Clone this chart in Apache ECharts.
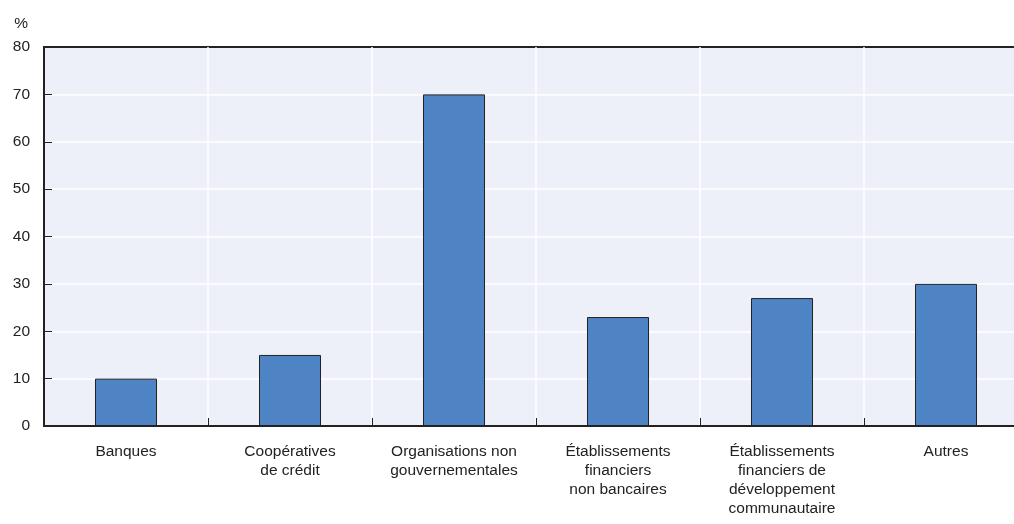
<!DOCTYPE html>
<html>
<head>
<meta charset="utf-8">
<script src="https://cdn.jsdelivr.net/npm/echarts@6/dist/echarts.min.js"></script>
<style>
  html, body { margin: 0; padding: 0; background: #fff; overflow: hidden; }
  /* le graphique dépasse à droite, comme dans l'original */
  #chart { width: 1028px; height: 524px; }
</style>
</head>
<body>
<div id="chart"></div>
<script>
// catégories d'établissements
const categories = [
    'Banques',
    'Coopératives\nde crédit',
    'Organisations non\ngouvernementales',
    'Établissements\nfinanciers\nnon bancaires',
    'Établissements\nfinanciers de\ndéveloppement\ncommunautaire',
    'Autres'
]
// part en %
const values = [10, 15, 70, 23, 27, 30]
const yTicks = [0, 10, 20, 30, 40, 50, 60, 70, 80]

const font = "'Liberation Sans', Arial, sans-serif"
const chart = echarts.init(document.getElementById('chart'))

const option = {
    animation: false,
    textStyle: { fontFamily: font },
    grid: {
        left: 44,
        right: 0,
        top: 47,
        bottom: 98,
        show: true,
        backgroundColor: '#eef0f9',
        borderColor: '#222',
        borderWidth: 2
    },
    xAxis: {
        type: 'category',
        data: categories,
        axisLine: { lineStyle: { color: '#222', width: 2 } },
        axisTick: { show: true, inside: true, length: 8, lineStyle: { color: '#222' } },
        splitLine: { show: true, lineStyle: { color: '#fff', width: 1.5 } },
        axisLabel: {
            color: '#222',
            fontSize: 15.5,
            fontFamily: font,
            lineHeight: 19,
            margin: 16,
            interval: 0
        }
    },
    yAxis: {
        type: 'value',
        name: '%',
        nameLocation: 'end',
        nameGap: 15,
        nameTextStyle: { color: '#222', fontSize: 15.5, fontFamily: font, align: 'right', padding: [0, 16, 0, 0] },
        min: yTicks[0],
        max: yTicks[yTicks.length - 1],
        interval: 10,
        axisLine: { show: true, lineStyle: { color: '#222', width: 2 } },
        axisTick: { show: true, inside: true, length: 8, lineStyle: { color: '#222' } },
        splitLine: { show: true, showMinLine: false, showMaxLine: false, lineStyle: { color: '#fff', width: 1.5 } },
        axisLabel: { color: '#222', fontSize: 15.5, fontFamily: font, margin: 14 }
    },
    series: [
        {
            type: 'bar',
            data: values,
            barWidth: 62,
            itemStyle: { color: '#4f84c4', borderColor: '#222', borderWidth: 1 }
        }
    ]
}

chart.setOption(option)
</script>
</body>
</html>
